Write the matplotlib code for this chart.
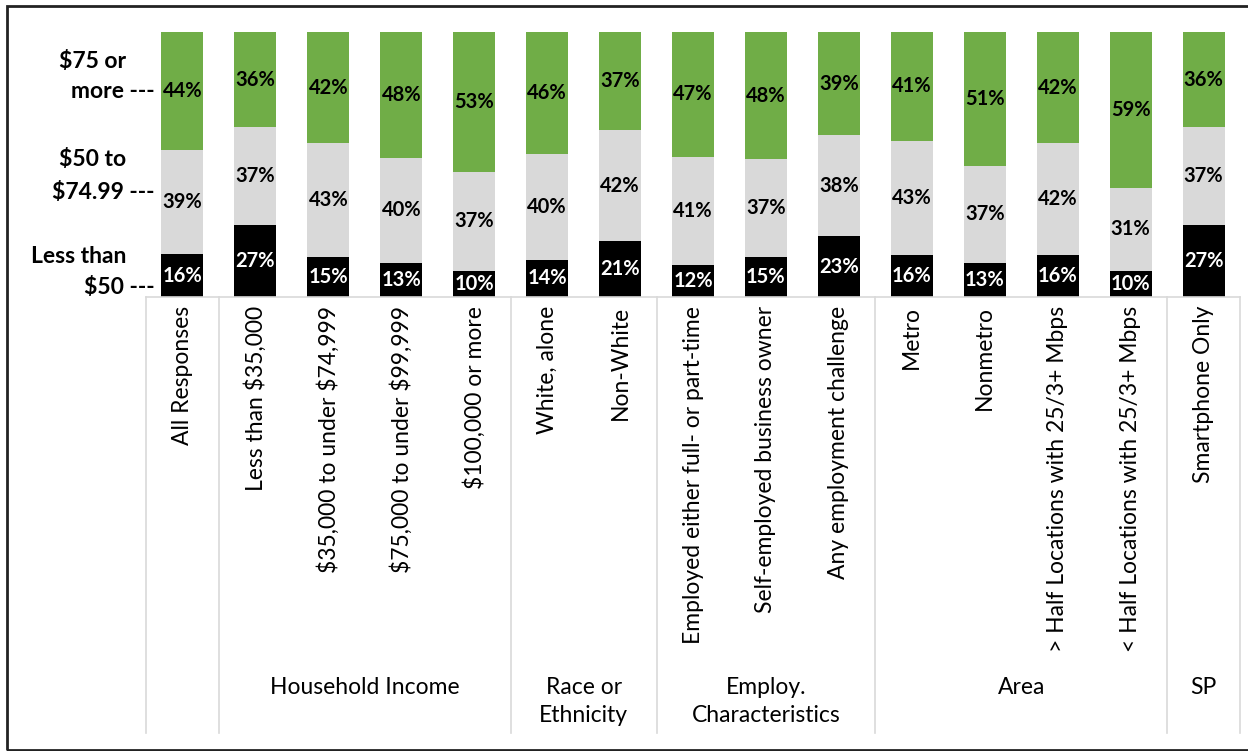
import numpy as np
import matplotlib.pyplot as plt
from matplotlib.transforms import blended_transform_factory
from matplotlib.patches import Rectangle

plt.rcParams['font.family'] = ['Lato', 'DejaVu Sans']

# Categories and their groups
categories = [
    'All Responses',
    'Less than $35,000', '$35,000 to under $74,999', '$75,000 to under $99,999', '$100,000 or more',
    'White, alone', 'Non-White',
    'Employed either full- or part-time', 'Self-employed business owner', 'Any employment challenge',
    'Metro', 'Nonmetro', '> Half Locations with 25/3+ Mbps', '< Half Locations with 25/3+ Mbps',
    'Smartphone Only',
]
groups = ['', 'Household Income', 'Race or\nEthnicity', 'Employ.\nCharacteristics', 'Area', 'SP']
group_sizes = [1, 4, 2, 3, 4, 1]

# Share of responses (%) by price range
less_50 = [16, 27, 15, 13, 10, 14, 21, 12, 15, 23, 16, 13, 16, 10, 27]
mid_50_75 = [39, 37, 43, 40, 37, 40, 42, 41, 37, 38, 43, 37, 42, 31, 37]
over_75 = [44, 36, 42, 48, 53, 46, 37, 47, 48, 39, 41, 51, 42, 59, 36]

series = [np.array(less_50, float), np.array(mid_50_75, float), np.array(over_75, float)]
colors = ['#000000', '#D9D9D9', '#70AD47']
text_colors = ['white', 'black', 'black']

fig = plt.figure(figsize=(12.48, 7.51), dpi=100)
ax = fig.add_axes([146 / 1248, 1 - 297 / 751, (1240 - 146) / 1248, (297 - 32) / 751])

x = np.arange(len(categories))
total = sum(series)
bottom = np.zeros(len(categories))
for vals, col, tcol in zip(series, colors, text_colors):
    share = vals / total * 100
    ax.bar(x, share, bottom=bottom, width=0.575, color=col, edgecolor='none')
    for xi, b, s, v in zip(x, bottom, share, vals):
        ax.text(xi, b + s / 2, f'{v:.0f}%', ha='center', va='center',
                color=tcol, fontsize=14.5, fontweight='bold')
    bottom += share

ax.set_xlim(-0.5, len(categories) - 0.5)
ax.set_ylim(0, 100)
ax.set_yticks([])
ax.set_xticks([])
for side in ['left', 'right', 'top']:
    ax.spines[side].set_visible(False)
ax.spines['bottom'].set_color('#D9D9D9')
ax.spines['bottom'].set_linewidth(1.2)

# Rotated category labels
px = 265.0  # axes height in pixels
xtr = ax.get_xaxis_transform()
for xi, lab in zip(x, categories):
    ax.text(xi, -9 / px, lab.replace('$', r'\$'), rotation=90, ha='center', va='top',
            fontsize=16.5, transform=xtr)

# Group separators and group labels
edges = np.concatenate([[0], np.cumsum(group_sizes)]) - 0.5
for e in edges:
    ax.plot([e, e], [0, -(733 - 297) / px], color='#D9D9D9', lw=1.2,
            transform=xtr, clip_on=False)
for g, a, b in zip(groups, edges[:-1], edges[1:]):
    if g:
        ax.text((a + b) / 2, -(677 - 297) / px, g, ha='center', va='top',
                fontsize=16.5, linespacing=1.4, transform=xtr)

# Price range labels on the left
ltr = blended_transform_factory(fig.transFigure, ax.transData)
ylabels = [('$75 or', 'more ---', 88.7, 77.4),
           ('$50 to', '$74.99 ---', 51.7, 39.6),
           ('Less than', '$50 ---', 15.1, 3.4)]
for l1, l2, y1, y2 in ylabels:
    ax.text(126 / 1248, y1, l1, ha='right', va='center', fontsize=16.5,
            fontweight='bold', transform=ltr)
    ax.text(155 / 1248, y2, l2, ha='right', va='center', fontsize=16.5,
            fontweight='bold', transform=ltr)

# Frame around the chart
fig.patches.append(Rectangle((7 / 1248, 1 / 751), 1.0, 744 / 751, transform=fig.transFigure,
                             fill=False, edgecolor='#222222', lw=2))

fig.savefig('out.png', dpi=100)
